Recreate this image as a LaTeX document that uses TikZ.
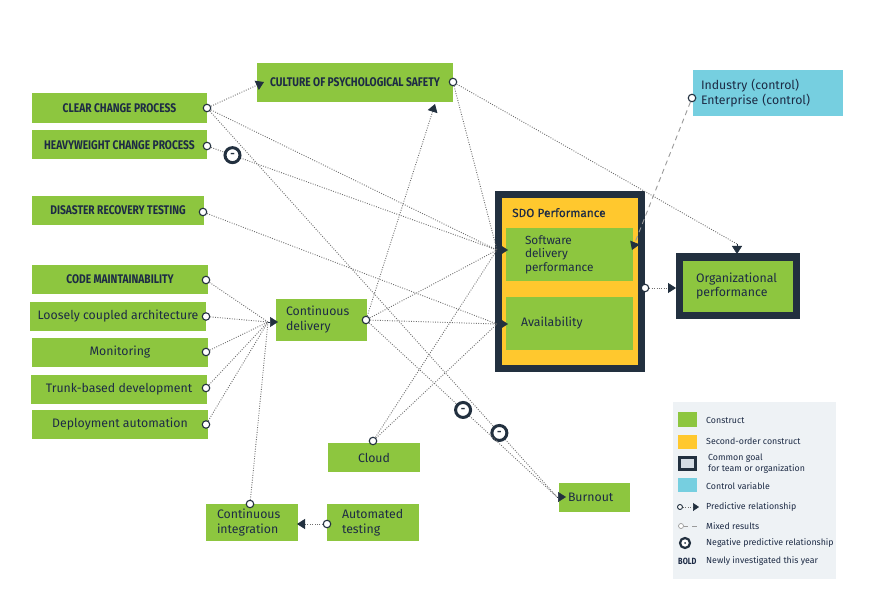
\documentclass[tikz,border=0pt]{standalone}
\usepackage{fontspec}
\setmainfont{Fira Sans}
\newfontfamily\capsfont[FakeStretch=0.82]{Fira Sans}
\newfontfamily\medfont[FakeBold=0.4]{Fira Sans}
\usetikzlibrary{arrows.meta}
\definecolor{cgreen}{HTML}{8DC63F}
\definecolor{cyellow}{HTML}{FFC82E}
\definecolor{cnavy}{HTML}{22303F}
\definecolor{ccyan}{HTML}{76CFE0}
\definecolor{ctext}{HTML}{1D2B45}
\definecolor{clink}{HTML}{6E6E6E}
\definecolor{clegend}{HTML}{EEF2F5}
\definecolor{cgoal}{HTML}{D5DDE5}
\definecolor{cmixed}{HTML}{9A9A9A}
\begin{document}
\begin{tikzpicture}[x=1pt,y=-1pt,
  gbox/.style={fill=cgreen, draw=none, text=ctext, inner sep=0pt, font=\fontsize{12.3}{15}\selectfont},
  capbox/.style={gbox, font=\capsfont\bfseries\fontsize{12.5}{13}\selectfont},
  odot/.style={circle, draw=cnavy, fill=white, solid, line width=1.1pt, minimum size=7.5pt, inner sep=0pt},
  link/.style={draw=clink, line width=0.9pt, dash pattern=on 0.9pt off 1.5pt},
  mixedlink/.style={draw=cmixed, line width=0.9pt, dash pattern=on 5pt off 4pt},
  tip/.style={-{Triangle[length=8pt,width=10pt,color=cnavy]}},
  tipshape/.style={draw=cnavy, line width=0.5pt, -{Triangle[length=8pt,width=10pt,color=cnavy]}},
  neg/.style={circle, draw=cnavy, fill=white, solid, line width=3pt, minimum size=15pt, inner sep=0pt, text=cnavy, font=\bfseries\fontsize{11}{11}\selectfont},
  legtext/.style={anchor=west, text=ctext, inner sep=0pt, font=\fontsize{8.8}{11}\selectfont},
]
\useasboundingbox (0,0) rectangle (875,609);
\fill[white] (0,0) rectangle (875,609);

% ---- boxes ----
\node[capbox, minimum width=196pt, minimum height=39pt] (culture) at (355,82.5) {CULTURE OF PSYCHOLOGICAL SAFETY};
\node[capbox, minimum width=175pt, minimum height=30pt] (clear) at (119.5,108) {CLEAR CHANGE PROCESS};
\node[capbox, minimum width=175pt, minimum height=29pt] (heavy) at (119.5,145) {HEAVYWEIGHT CHANGE PROCESS};
\node[capbox, minimum width=172pt, minimum height=29pt] (disaster) at (118,210.5) {DISASTER RECOVERY TESTING};
\node[capbox, minimum width=176pt, minimum height=29pt] (code) at (120,279.5) {CODE MAINTAINABILITY};
\node[gbox, minimum width=176pt, minimum height=29pt] (loose) at (118,316.5) {Loosely coupled architecture};
\node[gbox, minimum width=176pt, minimum height=29pt] (monitor) at (120,352.5) {Monitoring};
\node[gbox, minimum width=176pt, minimum height=29pt] (trunk) at (119,389) {Trunk-based development};
\node[gbox, minimum width=176pt, minimum height=29pt] (deploy) at (120,424.5) {Deployment automation};

\node[gbox, align=left, text width=71pt, inner xsep=10pt, minimum height=42pt] (cd) at (321.5,320) {Continuous\\delivery};
\node[gbox, minimum width=92pt, minimum height=29pt] (cloud) at (374,457.5) {Cloud};
\node[gbox, align=left, text width=70pt, inner xsep=11pt, minimum height=37pt] (ci) at (252,522.5) {Continuous\\integration};
\node[gbox, align=left, text width=62pt, inner xsep=15pt, minimum height=37pt] (at) at (373,522.5) {Automated\\testing};
\node[gbox, align=left, text width=53pt, inner xsep=9pt, minimum height=29pt] (burnout) at (594.5,497.5) {Burnout};

% SDO performance
\node[fill=cnavy, minimum width=150pt, minimum height=181pt, inner sep=0pt] (sdo) at (570,281.5) {};
\node[fill=cyellow, minimum width=136pt, minimum height=167pt, inner sep=0pt] (sdoin) at (570,281.5) {};
\node[anchor=base west, inner sep=0pt, text=ctext, font=\medfont\fontsize{11.8}{13}\selectfont] (sdotitle) at (512,217) {SDO Performance};
\node[gbox, align=left, text width=89pt, inner xsep=19pt, minimum height=53pt, font=\fontsize{11.8}{13.5}\selectfont] (sdp) at (569.5,254.5) {Software\\delivery\\performance};
\node[gbox, align=left, text width=97pt, inner xsep=15pt, minimum height=53pt] (avail) at (569.5,323.5) {Availability};

% Organizational performance
\node[fill=cnavy, minimum width=124pt, minimum height=66pt, inner sep=0pt] (org) at (738,286) {};
\node[gbox, align=left, text width=84pt, inner xsep=13pt, minimum height=51pt, font=\fontsize{12.3}{14}\selectfont] (orgin) at (738,286.5) {Organizational\\performance};

% control variable
\node[fill=ccyan, text=ctext, align=left, text width=134pt, inner xsep=8pt, minimum height=46pt, font=\fontsize{12.3}{15}\selectfont] (industry) at (768,93) {Industry (control)\\Enterprise (control)};

% ---- source dots ----
\node[odot] (clear-o) at (207,108) {};
\node[odot] (heavy-o) at (207,146) {};
\node[odot] (disaster-o) at (203,212) {};
\node[odot] (culture-o) at (453,82) {};
\node[odot] (code-o) at (206,280) {};
\node[odot] (loose-o) at (206,316.5) {};
\node[odot] (monitor-o) at (206,352) {};
\node[odot] (trunk-o) at (206,388) {};
\node[odot] (deploy-o) at (206,424.5) {};
\node[odot] (cd-o) at (366,320) {};
\node[odot] (cloud-o) at (373,441) {};
\node[odot] (ci-o) at (250,504) {};
\node[odot] (at-o) at (327,524) {};
\node[odot] (sdo-o) at (645,288) {};
\node[odot] (industry-o) at (692,98) {};

% ---- target points ----
\coordinate (sdp-in) at (497,250);
\coordinate (sdp-tip) at (508,250);
\coordinate (avail-in) at (497,324);
\coordinate (avail-tip) at (508,324);
\coordinate (cd-in) at (268,322);
\coordinate (cd-tip) at (278,322);
\coordinate (burnout-in) at (557,497);
\coordinate (burnout-tip) at (566,497);
\coordinate (culture-l) at (264,82);
\coordinate (culture-b) at (435,104);
\coordinate (org-tin) at (737,244);
\coordinate (org-t) at (737,254);
\coordinate (org-l) at (676,288);
\coordinate (sdp-r) at (632,250);
\coordinate (ci-r) at (297,524);

% ---- connectors ----
\draw[link, tip] (clear-o) -- (culture-l);
\draw[link] (clear-o) -- (sdp-in);
\draw[link] (clear-o) -- node[neg, pos=0.834] (neg-clear) {-} (burnout-in);
\draw[link] (heavy-o) -- node[neg, pos=0.075] (neg-heavy) {-} (sdp-in);
\draw[link] (disaster-o) -- (avail-in);
\draw[link] (culture-o) -- (sdp-in);
\draw[link] (culture-o) -- (org-tin);
\draw[link] (code-o) -- (cd-in);
\draw[link] (loose-o) -- (cd-in);
\draw[link] (monitor-o) -- (cd-in);
\draw[link] (trunk-o) -- (cd-in);
\draw[link] (deploy-o) -- (cd-in);
\draw[link] (ci-o) -- (cd-in);
\draw[link, tip] (at-o) -- (ci-r);
\draw[link, tip] (cd-o) -- (culture-b);
\draw[link] (cd-o) -- (sdp-in);
\draw[link] (cd-o) -- (avail-in);
\draw[link] (cd-o) -- node[neg, pos=0.5] (neg-cd) {-} (burnout-in);
\draw[link] (cloud-o) -- (sdp-in);
\draw[link] (cloud-o) -- (avail-in);
\draw[link, tip] (sdo-o) -- (org-l);
\draw[mixedlink, tip] (industry-o) -- (sdp-r);

\draw[tipshape] (sdp-in) -- (sdp-tip);
\draw[tipshape] (avail-in) -- (avail-tip);
\draw[tipshape] (cd-in) -- (cd-tip);
\draw[tipshape] (burnout-in) -- (burnout-tip);
\draw[tipshape] (org-tin) -- (org-t);

% ---- legend ----
\fill[clegend] (673,402) rectangle (836,579);
\fill[cgreen] (678,412) rectangle (697,427);
\node[legtext] (lg1) at (706,420) {Construct};
\fill[cyellow] (678,435) rectangle (697,449);
\node[legtext] (lg2) at (706,441.5) {Second-order construct};
\filldraw[fill=cgoal, draw=cnavy, line width=2.5pt] (679.5,457.5) rectangle (695.5,469.5);
\node[legtext, align=left, font=\fontsize{8.8}{11}\selectfont] (lg3) at (708,463.5) {Common goal\\for team or organization};
\fill[ccyan] (678,478) rectangle (697,492);
\node[legtext] (lg4) at (706,486) {Control variable};
\node[odot, minimum size=5pt, line width=0.9pt] (lg-dot) at (680,507) {};
\coordinate (lg-arrow) at (699,507);
\draw[link, line width=0.7pt, -{Triangle[length=6pt,width=8pt,color=cnavy]}] (lg-dot) -- (lg-arrow);
\node[legtext] (lg5) at (706,507.5) {Predictive relationship};
\node[circle, draw=cmixed, fill=white, line width=0.7pt, minimum size=5pt, inner sep=0pt] (lg-mdot) at (681,526) {};
\coordinate (lg-m1) at (688,526);
\coordinate (lg-m2) at (692,526);
\coordinate (lg-m3) at (697,526);
\draw[cmixed, line width=0.7pt] (lg-mdot) -- (lg-m1);
\draw[cmixed, line width=0.7pt] (lg-m2) -- (lg-m3);
\node[legtext] (lg6) at (706,526.5) {Mixed results};
\node[circle, draw=cnavy, fill=white, line width=2.2pt, minimum size=10pt, inner sep=0pt] (lg-neg) at (685,543) {};
\fill[cnavy] (lg-neg.center) circle (1pt);
\node[legtext] (lg7) at (706,543) {Negative predictive relationship};
\node[legtext, font=\capsfont\bfseries\fontsize{9}{10}\selectfont] (lg8) at (678,561) {BOLD};
\node[legtext] (lg9) at (706,561) {Newly investigated this year};
\end{tikzpicture}
\end{document}
